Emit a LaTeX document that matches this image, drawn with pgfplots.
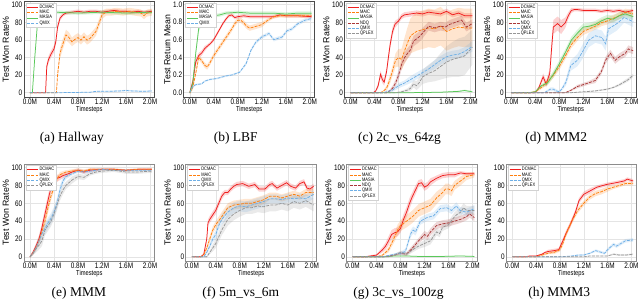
\documentclass[border=0pt]{standalone}
\usepackage{fontspec}
\setmainfont{Liberation Sans}[FakeStretch=0.8]
\newfontfamily\ylfont{Liberation Sans}
\newfontfamily\capfont{Liberation Serif}
\usepackage{pgfplots}
\pgfplotsset{compat=1.18}
\usepgfplotslibrary{fillbetween}
\usepackage{pgfplotstable}

\definecolor{cD}{RGB}{240,30,30}
\definecolor{cM}{RGB}{255,127,14}
\definecolor{cS}{RGB}{90,200,90}
\definecolor{cN}{RGB}{170,55,55}
\definecolor{cQ}{RGB}{110,175,230}
\definecolor{cX}{RGB}{150,150,150}
\definecolor{gridc}{RGB}{228,228,228}
\definecolor{legc}{RGB}{210,210,210}
\tikzset{dsh/.style={dash pattern=on 3pt off 1.2pt}}

% ---------- (a) Hallway ----------
\pgfplotstableread[row sep=\\]{x y e\\0 0 0\\0.26 0 0\\0.28 30 4\\0.31 38 4\\0.35 44 4\\0.4 50 4\\0.43 58 4\\0.46 75 4\\0.5 85 3\\0.55 89 2\\0.6 91 2\\0.7 92 2\\0.8 93 2\\0.9 92 2\\1.0 93 2\\1.1 93 2\\1.2 92 2\\1.3 93 2\\1.4 94 2\\1.5 93 2\\1.6 93 2\\1.7 92 2\\1.8 93 2\\1.9 92 2\\2.03 93 2\\}\aD
\pgfplotstableread[row sep=\\]{x y e\\0 0 0\\0.44 0 0\\0.46 20 5\\0.5 45 6\\0.55 56 6\\0.6 66 6\\0.65 63 6\\0.7 58 5\\0.75 61 5\\0.8 63 5\\0.85 60 5\\0.9 64 5\\0.95 60 5\\1.0 62 5\\1.05 66 5\\1.1 70 5\\1.15 79 5\\1.2 89 5\\1.27 92 4\\1.35 92 4\\1.45 93 4\\1.55 92 4\\1.65 93 4\\1.75 92 4\\1.85 91 4\\1.9 88 4\\1.95 91 4\\2.03 92 4\\}\aM
\pgfplotstableread[row sep=\\]{x y e\\0 0 0\\0.04 0 0\\0.08 40 3\\0.12 75 3\\0.15 91 2\\0.4 92 2\\0.8 91 2\\1.2 92 2\\1.6 91 2\\2.03 92 2\\}\aS
\pgfplotstableread[row sep=\\]{x y e\\0 0 0.3\\0.5 0 0.3\\1.0 0.5 0.5\\1.1 1.5 0.7\\1.3 1.5 0.7\\1.5 2 0.8\\1.6 2.5 0.8\\1.7 2 0.8\\1.9 1.5 0.8\\2.03 2 0.8\\}\aQ
% ---------- (b) LBF ----------
\pgfplotstableread[row sep=\\]{x y e\\0 0 0.02\\0.05 0.12 0.04\\0.1 0.35 0.04\\0.15 0.42 0.03\\0.2 0.45 0.03\\0.25 0.5 0.03\\0.3 0.53 0.02\\0.35 0.56 0.02\\0.4 0.6 0.02\\0.45 0.66 0.02\\0.5 0.72 0.02\\0.55 0.78 0.02\\0.6 0.83 0.02\\0.65 0.87 0.02\\0.7 0.88 0.02\\0.75 0.85 0.02\\0.8 0.86 0.02\\0.9 0.87 0.02\\1.0 0.86 0.02\\1.2 0.86 0.02\\1.4 0.86 0.02\\1.5 0.88 0.02\\1.6 0.87 0.02\\1.8 0.87 0.02\\2.03 0.86 0.02\\}\bD
\pgfplotstableread[row sep=\\]{x y e\\0 0 0.02\\0.05 0.06 0.03\\0.1 0.22 0.03\\0.15 0.4 0.03\\0.2 0.36 0.03\\0.25 0.31 0.03\\0.29 0.29 0.03\\0.33 0.33 0.03\\0.4 0.42 0.03\\0.5 0.52 0.03\\0.6 0.62 0.03\\0.7 0.72 0.03\\0.75 0.78 0.03\\0.8 0.82 0.03\\0.85 0.82 0.03\\0.9 0.79 0.03\\0.95 0.75 0.03\\1.0 0.73 0.03\\1.1 0.75 0.03\\1.2 0.77 0.03\\1.3 0.82 0.02\\1.4 0.86 0.02\\1.5 0.87 0.02\\1.6 0.87 0.02\\1.8 0.87 0.02\\2.03 0.87 0.02\\}\bM
\pgfplotstableread[row sep=\\]{x y e\\0 0 0.02\\0.05 0.1 0.05\\0.1 0.45 0.05\\0.15 0.73 0.04\\0.2 0.8 0.03\\0.3 0.85 0.03\\0.4 0.87 0.02\\0.5 0.88 0.02\\0.6 0.9 0.02\\0.8 0.91 0.02\\1.0 0.9 0.02\\1.2 0.9 0.02\\1.4 0.9 0.02\\1.6 0.89 0.02\\1.8 0.9 0.02\\2.03 0.9 0.02\\}\bS
\pgfplotstableread[row sep=\\]{x y e\\0 0 0.01\\0.05 0.07 0.02\\0.1 0.09 0.01\\0.2 0.1 0.01\\0.25 0.13 0.01\\0.34 0.15 0.01\\0.45 0.16 0.01\\0.61 0.19 0.01\\0.7 0.2 0.01\\0.83 0.23 0.01\\0.94 0.33 0.02\\1.02 0.48 0.02\\1.1 0.57 0.02\\1.2 0.63 0.02\\1.32 0.67 0.02\\1.4 0.6 0.02\\1.54 0.63 0.02\\1.62 0.7 0.02\\1.7 0.72 0.02\\1.8 0.78 0.02\\1.92 0.82 0.02\\2.03 0.84 0.02\\}\bQ
% ---------- (c) 2c_vs_64zg ----------
\pgfplotstableread[row sep=\\]{x y e\\0 0 0\\0.38 0 0\\0.42 2 1\\0.46 8 3\\0.5 21 4\\0.53 15 4\\0.56 12 4\\0.6 24 4\\0.63 40 5\\0.66 55 5\\0.7 70 5\\0.74 78 4\\0.8 82 3\\0.85 87 3\\0.9 89 3\\1.0 90 3\\1.1 91 3\\1.2 90 3\\1.3 92 3\\1.4 91 3\\1.5 90 3\\1.6 93 3\\1.7 89 3\\1.8 91 3\\1.9 88 3\\2.03 88 3\\}\cD
\pgfplotstableread[row sep=\\]{x y e\\0 0 0\\0.5 0 0\\0.55 2 1\\0.6 5 3\\0.65 14 5\\0.7 25 6\\0.75 37 8\\0.8 40 10\\0.85 38 12\\0.9 48 15\\0.95 57 18\\1.0 65 20\\1.1 70 22\\1.2 72 22\\1.3 74 22\\1.4 73 22\\1.5 76 22\\1.6 70 22\\1.7 73 22\\1.8 75 22\\1.9 74 22\\2.03 74 22\\}\cM
\pgfplotstableread[row sep=\\]{x y e\\0 0 0.3\\1.0 0 0.3\\1.5 0.5 0.5\\1.8 1.5 0.8\\1.9 2.5 1\\2.03 1 0.8\\}\cS
\pgfplotstableread[row sep=\\]{x y e\\0 0 0\\0.6 0 0\\0.65 2 1\\0.7 5 3\\0.75 11 4\\0.8 20 5\\0.85 32 6\\0.9 40 6\\0.95 45 6\\1.0 49 6\\1.05 59 6\\1.13 63 6\\1.2 68 6\\1.3 76 5\\1.4 74 5\\1.5 76 5\\1.58 75 5\\1.65 78 5\\1.73 80 5\\1.85 83 5\\1.93 75 5\\2.03 79 5\\}\cN
\pgfplotstableread[row sep=\\]{x y e\\0 0 0\\0.55 0 0.5\\0.6 1 1\\0.7 3 2\\0.8 8 3\\0.9 11 3\\1.0 15 4\\1.1 19 4\\1.2 23 4\\1.3 27 4\\1.4 32 5\\1.5 37 5\\1.6 41 5\\1.7 43 5\\1.8 44 5\\1.9 47 5\\2.03 53 6\\}\cQ
\pgfplotstableread[row sep=\\]{x y e\\0 0 0\\0.75 0 0.5\\0.85 1 1\\0.95 3 2\\1.0 5 3\\1.05 10 4\\1.1 8 5\\1.15 12 6\\1.2 18 8\\1.3 22 10\\1.4 25 12\\1.5 30 15\\1.6 35 18\\1.7 38 20\\1.8 40 22\\1.9 42 22\\2.03 52 20\\}\cX
% ---------- (d) MMM2 ----------
\pgfplotstableread[row sep=\\]{x y e\\0 0 0\\0.38 0 0.5\\0.42 2 1\\0.46 6 2\\0.5 13 3\\0.53 18 4\\0.58 10 4\\0.64 22 5\\0.67 50 8\\0.7 75 8\\0.77 79 8\\0.83 75 8\\0.9 80 6\\0.95 88 4\\1.0 94 3\\1.05 95 2\\1.1 95 2\\1.2 94 2\\1.3 94 2\\1.4 94 2\\1.5 93 2\\1.6 94 2\\1.7 93 2\\1.8 94 2\\1.9 92 2\\2.03 94 2\\}\dD
\pgfplotstableread[row sep=\\]{x y e\\0 0 0\\0.3 0 0.5\\0.4 1 1\\0.5 6 2\\0.6 12 3\\0.7 20 3\\0.8 30 4\\0.9 42 4\\1.0 55 4\\1.1 63 4\\1.2 70 4\\1.3 73 4\\1.4 76 4\\1.5 80 4\\1.6 82 4\\1.7 85 4\\1.8 88 4\\1.9 92 4\\2.03 90 4\\}\dM
\pgfplotstableread[row sep=\\]{x y e\\0 0 0\\0.3 0 0.5\\0.4 1 1\\0.5 8 2\\0.6 11 3\\0.7 21 4\\0.8 33 4\\0.9 46 4\\1.0 60 4\\1.1 68 4\\1.2 75 4\\1.3 76 4\\1.4 78 4\\1.5 82 4\\1.6 85 4\\1.7 84 4\\1.8 88 4\\1.9 90 4\\2.03 87 4\\}\dS
\pgfplotstableread[row sep=\\]{x y e\\0 0 0\\0.9 0 0.5\\1.0 3 1\\1.1 7 2\\1.28 11 2\\1.4 14 3\\1.5 24 3\\1.57 37 4\\1.65 45 4\\1.73 37 4\\1.8 41 4\\1.9 45 4\\1.95 50 4\\2.03 48 4\\}\dN
\pgfplotstableread[row sep=\\]{x y e\\0 0 0\\0.55 0 0.5\\0.6 2 1\\0.65 4 2\\0.7 4 2\\0.75 2 2\\0.8 1 1\\0.85 5 2\\0.91 12 4\\0.99 31 6\\1.1 37 7\\1.18 46 8\\1.29 60 8\\1.4 65 8\\1.51 63 8\\1.57 56 8\\1.62 73 8\\1.76 79 8\\1.88 86 6\\2.03 81 6\\}\dQ
\pgfplotstableread[row sep=\\]{x y e\\0 0 0\\1.0 0 0.3\\1.2 1 0.5\\1.4 2 0.8\\1.6 4 1\\1.7 6 1\\1.8 9 1.5\\1.9 13 2\\1.95 15 2\\2.03 20 2\\}\dX
% ---------- (e) MMM ----------
\pgfplotstableread[row sep=\\]{x y e\\0 0 1\\0.05 5 2\\0.1 12 3\\0.15 20 4\\0.19 30 5\\0.27 54 6\\0.32 69 6\\0.36 80 5\\0.4 87 4\\0.45 88 4\\0.5 89 3\\0.55 91 3\\0.64 93 3\\0.7 95 2\\0.8 97 2\\0.9 95 2\\1.0 97 2\\1.2 98 1\\1.4 98 1\\1.6 97 1\\1.8 98 1\\2.03 98 1\\}\eD
\pgfplotstableread[row sep=\\]{x y e\\0 0 1\\0.05 4 2\\0.1 10 3\\0.15 18 4\\0.2 28 5\\0.25 40 6\\0.3 55 6\\0.35 68 5\\0.4 78 4\\0.45 87 3\\0.5 92 3\\0.6 95 2\\0.7 96 2\\0.8 97 2\\0.9 96 2\\1.0 98 1\\1.2 98 1\\1.4 98 1\\1.6 97 1\\1.8 98 1\\2.03 98 1\\}\eM
\pgfplotstableread[row sep=\\]{x y e\\0 0 1\\0.05 4 2\\0.1 10 4\\0.15 18 5\\0.2 26 6\\0.25 32 6\\0.3 38 6\\0.35 43 6\\0.4 50 6\\0.45 60 6\\0.5 75 5\\0.55 85 4\\0.6 90 3\\0.7 93 2\\0.8 96 2\\0.9 95 2\\1.0 96 2\\1.2 98 1\\1.4 97 1\\1.6 97 1\\1.8 97 1\\2.03 97 1\\}\eQ
\pgfplotstableread[row sep=\\]{x y e\\0 0 1\\0.05 4 2\\0.1 9 4\\0.15 13 5\\0.2 18 6\\0.25 30 6\\0.3 35 6\\0.35 40 6\\0.4 48 6\\0.45 58 6\\0.5 68 5\\0.55 75 5\\0.6 80 4\\0.7 86 4\\0.8 90 3\\0.9 89 3\\1.0 93 2\\1.1 95 2\\1.2 96 2\\1.4 97 2\\1.6 95 2\\1.8 95 2\\2.03 96 2\\}\eX
% ---------- (f) 5m_vs_6m ----------
\pgfplotstableread[row sep=\\]{x y e\\0 0 0\\0.15 0 0.5\\0.2 3 1\\0.25 20 3\\0.27 38 4\\0.3 42 4\\0.35 47 4\\0.4 52 4\\0.45 60 4\\0.5 68 4\\0.55 72 3\\0.6 72 3\\0.65 76 3\\0.7 79 3\\0.75 81 3\\0.85 82 3\\0.95 79 3\\1.05 81 3\\1.12 76 3\\1.22 76 3\\1.3 81 3\\1.34 82 3\\1.42 77 3\\1.5 80 3\\1.58 83 3\\1.65 79 3\\1.73 77 3\\1.8 82 3\\1.87 84 3\\1.92 77 3\\1.97 76 3\\2.03 79 3\\}\fD
\pgfplotstableread[row sep=\\]{x y e\\0 0 0\\0.15 0 0.5\\0.2 2 1\\0.25 10 3\\0.3 20 4\\0.35 30 4\\0.4 36 4\\0.5 45 5\\0.6 55 5\\0.7 58 5\\0.8 59 5\\0.9 60 5\\1.0 60 5\\1.1 62 5\\1.2 64 5\\1.3 68 4\\1.4 68 4\\1.5 66 4\\1.6 68 4\\1.7 70 4\\1.8 68 4\\1.9 72 4\\2.03 72 4\\}\fM
\pgfplotstableread[row sep=\\]{x y e\\0 0 0\\0.2 0 0.5\\0.25 5 2\\0.3 12 3\\0.35 20 4\\0.4 25 5\\0.45 35 5\\0.5 42 6\\0.6 50 6\\0.7 55 6\\0.8 57 6\\0.9 56 6\\1.0 58 6\\1.1 60 6\\1.2 62 6\\1.3 65 5\\1.4 65 5\\1.5 64 5\\1.6 66 5\\1.7 65 5\\1.8 66 5\\1.9 65 5\\2.03 70 5\\}\fQ
\pgfplotstableread[row sep=\\]{x y e\\0 0 0\\0.25 0 1\\0.3 5 2\\0.35 10 4\\0.4 15 5\\0.5 30 6\\0.6 42 7\\0.7 48 7\\0.8 52 7\\0.9 55 7\\1.0 55 7\\1.1 57 7\\1.2 56 7\\1.3 58 7\\1.4 58 7\\1.5 60 7\\1.6 58 7\\1.7 62 7\\1.8 60 7\\1.9 63 7\\2.03 58 7\\}\fX
% ---------- (g) 3c_vs_100zg ----------
\pgfplotstableread[row sep=\\]{x y e\\0 0 0\\0.2 0 0.5\\0.3 1 1\\0.4 2 1\\0.45 5 2\\0.5 8 3\\0.55 12 4\\0.6 18 5\\0.65 25 5\\0.7 27 5\\0.75 28 5\\0.8 32 5\\0.85 42 6\\0.9 50 6\\0.95 60 6\\1.0 68 5\\1.05 75 5\\1.1 82 4\\1.15 83 4\\1.2 78 4\\1.25 80 4\\1.3 84 4\\1.4 88 3\\1.5 91 3\\1.6 92 3\\1.7 92 3\\1.8 94 2\\1.9 93 2\\2.03 93 2\\}\gD
\pgfplotstableread[row sep=\\]{x y e\\0 0 0\\0.4 0 0.5\\0.5 2 1\\0.6 8 3\\0.65 15 4\\0.7 22 5\\0.75 30 6\\0.8 35 6\\0.9 40 7\\1.0 45 7\\1.1 52 7\\1.2 55 7\\1.3 58 7\\1.35 62 7\\1.4 66 7\\1.5 72 6\\1.55 76 6\\1.6 76 6\\1.65 74 6\\1.7 80 5\\1.8 85 5\\1.9 90 4\\2.03 92 3\\}\gM
\pgfplotstableread[row sep=\\]{x y e\\0 0 0.3\\0.5 0 0.3\\0.7 1 0.5\\0.9 1 0.5\\1.1 0.5 0.5\\1.5 0.5 0.5\\1.8 1 0.5\\2.03 0.5 0.5\\}\gS
\pgfplotstableread[row sep=\\]{x y e\\0 0 0\\0.5 0 0.5\\0.6 1 1\\0.7 2 1\\0.8 4 2\\0.9 3 2\\1.0 10 3\\1.1 18 3\\1.2 25 4\\1.25 23 4\\1.3 28 4\\1.4 35 4\\1.5 37 4\\1.6 38 4\\1.7 40 4\\1.8 42 4\\1.9 45 4\\1.95 48 4\\2.03 44 4\\}\gN
\pgfplotstableread[row sep=\\]{x y e\\0 0 0\\0.5 0 0.5\\0.7 3 1\\0.8 4 2\\0.88 6 3\\0.97 26 4\\1.01 30 4\\1.05 28 4\\1.13 40 4\\1.24 44 4\\1.35 46 4\\1.46 54 4\\1.57 55 4\\1.65 52 4\\1.73 57 4\\1.79 52 4\\1.9 50 4\\2.03 54 4\\}\gQ
\pgfplotstableread[row sep=\\]{x y e\\0 0 0\\0.6 0 0.5\\0.7 2 1\\0.8 5 2\\0.9 3 2\\1.0 8 3\\1.1 12 3\\1.2 15 4\\1.3 18 4\\1.4 28 4\\1.45 26 4\\1.5 33 4\\1.6 36 4\\1.7 45 5\\1.75 48 5\\1.8 50 5\\1.85 55 5\\1.9 52 5\\2.03 52 5\\}\gX
% ---------- (h) MMM3 ----------
\pgfplotstableread[row sep=\\]{x y e\\0 0 0\\0.2 0 0.5\\0.3 1 0.5\\0.4 1 0.5\\0.5 3 1\\0.55 5 1\\0.6 6 2\\0.7 7 2\\0.78 8 2\\0.85 18 3\\0.9 26 3\\0.98 37 3\\1.06 50 3\\1.12 63 3\\1.2 70 3\\1.31 74 3\\1.42 78 2\\1.58 81 2\\1.74 83 2\\1.88 85 2\\1.93 87 2\\2.03 85 2\\}\hD
\pgfplotstableread[row sep=\\]{x y e\\0 0 0\\0.4 0 0.5\\0.5 2 1\\0.6 4 1\\0.7 5 2\\0.8 8 2\\0.85 15 3\\0.9 25 3\\1.0 40 3\\1.1 52 3\\1.2 60 3\\1.3 67 3\\1.4 71 3\\1.5 73 3\\1.6 76 3\\1.7 78 2\\1.8 80 2\\1.9 82 2\\2.03 82 2\\}\hM
\pgfplotstableread[row sep=\\]{x y e\\0 0 0\\0.8 0 0.3\\1.0 1 0.5\\1.1 2 0.8\\1.2 2 1\\1.3 4 1\\1.4 7 1.5\\1.5 5 1.5\\1.55 4 1.5\\1.6 8 2\\1.7 14 2\\1.75 12 2\\1.8 14 2\\1.9 18 2\\2.03 19 2\\}\hQ
\pgfplotstableread[row sep=\\]{x y e\\0 0 0\\1.2 0 0.3\\1.3 1 0.5\\1.5 1 0.5\\1.6 1 0.5\\1.7 3 1\\1.8 2 1\\1.9 2 1\\2.03 3 1\\}\hX

\newcommand{\ser}[4]{%
\addplot[draw=none,forget plot,name path=#2u] table[x=x,y expr=\thisrow{y}+\thisrow{e}]{#1};
\addplot[draw=none,forget plot,name path=#2l] table[x=x,y expr=\thisrow{y}-\thisrow{e}]{#1};
\addplot[fill=#3,fill opacity=0.2,draw=none,forget plot] fill between[of=#2u and #2l];
\addplot[color=#3,line width=0.75pt,#4,
  legend image code/.code={\draw[draw=#3, line width=0.9pt, #4] (0pt,0pt) -- (11pt,0pt);}]
  table[x=x,y=y]{#1};
}

\pgfplotsset{
  panel/.style={
    scale only axis, width=131pt,
    xmin=-0.1, xmax=2.08,
    xtick={0,0.4,0.8,1.2,1.6,2.0},
    xticklabels={0.0M,0.4M,0.8M,1.2M,1.6M,2.0M},
    grid=major, major grid style={color=gridc, line width=0.5pt},
    major tick length=0pt,
    tick label style={font=\fontsize{8}{9}\selectfont},
    xticklabel style={inner sep=1.5pt},
    yticklabel style={inner sep=1.5pt},
    xlabel={Timesteps},
    xlabel style={font=\fontsize{7.2}{8}\selectfont, inner sep=0pt},
    ylabel style={font=\ylfont\fontsize{8.8}{10}\selectfont, inner sep=1pt},
    /pgf/number format/assume math mode=true,
    legend style={at={(0.012,0.988)}, anchor=north west, font=\fontsize{5}{5.5}\selectfont,
      draw=legc, fill=white, inner sep=1pt, row sep=-1.5pt,
      nodes={inner sep=0.9pt}},
    legend cell align=left,
  },
  toprow/.style={panel, height=95.5pt, axis line style={color=black!70, line width=0.6pt}},
  botrow/.style={panel, height=97.5pt, axis line style={color=black!45, line width=0.6pt}},
  pct/.style={ymin=-5, ymax=104, ytick={0,20,40,60,80,100}, ylabel={Test Won Rate\%}},
}

\begin{document}
\begin{tikzpicture}
\path (0pt,0pt) rectangle (640pt,-305pt);

% (a)
\begin{axis}[toprow, pct, at={(24pt,-1.5pt)}, anchor=north west,
  legend entries={DCMAC,MAIC,MASIA,QMIX}]
\ser{\aD}{aD}{cD}{solid}
\ser{\aM}{aM}{cM}{dsh}
\ser{\aS}{aS}{cS}{solid}
\ser{\aQ}{aQ}{cQ}{dsh}
\end{axis}
% (b)
\begin{axis}[toprow, at={(184pt,-1.5pt)}, anchor=north west,
  ymin=-0.05, ymax=1.03, ytick={0,0.2,0.4,0.6,0.8,1.0},
  yticklabel style={/pgf/number format/.cd, fixed, fixed zerofill, precision=1},
  ylabel={Test Return Mean},
  legend entries={DCMAC,MAIC,MASIA,QMIX}]
\ser{\bD}{bD}{cD}{solid}
\ser{\bM}{bM}{cM}{dsh}
\ser{\bS}{bS}{cS}{solid}
\ser{\bQ}{bQ}{cQ}{dsh}
\end{axis}
% (c)
\begin{axis}[toprow, pct, at={(345pt,-1.5pt)}, anchor=north west,
  legend entries={DCMAC,MAIC,MASIA,NDQ,QMIX,QPLEX}]
\ser{\cD}{cD}{cD}{solid}
\ser{\cM}{cM}{cM}{dsh}
\ser{\cS}{cS}{cS}{solid}
\ser{\cN}{cN}{cN}{dsh}
\ser{\cQ}{cQ}{cQ}{dsh}
\ser{\cX}{cX}{cX}{dsh}
\end{axis}
% (d)
\begin{axis}[toprow, pct, at={(506pt,-1.5pt)}, anchor=north west,
  legend entries={DCMAC,MAIC,MASIA,NDQ,QMIX,QPLEX}]
\ser{\dD}{dD}{cD}{solid}
\ser{\dM}{dM}{cM}{dsh}
\ser{\dS}{dS}{cS}{solid}
\ser{\dN}{dN}{cN}{dsh}
\ser{\dQ}{dQ}{cQ}{dsh}
\ser{\dX}{dX}{cX}{dsh}
\end{axis}
% (e)
\begin{axis}[botrow, pct, at={(24pt,-164pt)}, anchor=north west,
  legend entries={DCMAC,MAIC,QMIX,QPLEX}]
\ser{\eD}{eD}{cD}{solid}
\ser{\eM}{eM}{cM}{dsh}
\ser{\eQ}{eQ}{cQ}{dsh}
\ser{\eX}{eX}{cX}{dsh}
\end{axis}
% (f)
\begin{axis}[botrow, pct, at={(186pt,-164pt)}, anchor=north west,
  legend entries={DCMAC,MAIC,QMIX,QPLEX}]
\ser{\fD}{fD}{cD}{solid}
\ser{\fM}{fM}{cM}{dsh}
\ser{\fQ}{fQ}{cQ}{dsh}
\ser{\fX}{fX}{cX}{dsh}
\end{axis}
% (g)
\begin{axis}[botrow, pct, at={(347pt,-164pt)}, anchor=north west,
  legend entries={DCMAC,MAIC,MASIA,NDQ,QMIX,QPLEX}]
\ser{\gD}{gD}{cD}{solid}
\ser{\gM}{gM}{cM}{dsh}
\ser{\gS}{gS}{cS}{solid}
\ser{\gN}{gN}{cN}{dsh}
\ser{\gQ}{gQ}{cQ}{dsh}
\ser{\gX}{gX}{cX}{dsh}
\end{axis}
% (h)
\begin{axis}[botrow, pct, at={(507pt,-164pt)}, anchor=north west, width=130pt,
  legend entries={DCMAC,MAIC,QMIX,QPLEX}]
\ser{\hD}{hD}{cD}{solid}
\ser{\hM}{hM}{cM}{dsh}
\ser{\hQ}{hQ}{cQ}{dsh}
\ser{\hX}{hX}{cX}{dsh}
\end{axis}

\begin{scope}[every node/.style={font=\capfont\fontsize{13.5}{15}\selectfont, inner sep=0pt}]
\node at (72pt,-138pt) {(a)\ Hallway};
\node at (236pt,-138pt) {(b)\ LBF};
\node at (400pt,-138pt) {(c)\ 2c\_vs\_64zg};
\node at (557pt,-138pt) {(d)\ MMM2};
\node at (79pt,-293pt) {(e)\ MMM};
\node at (241pt,-293pt) {(f)\ 5m\_vs\_6m};
\node at (399pt,-293pt) {(g)\ 3c\_vs\_100zg};
\node at (560pt,-293pt) {(h)\ MMM3};
\end{scope}
\end{tikzpicture}
\end{document}
